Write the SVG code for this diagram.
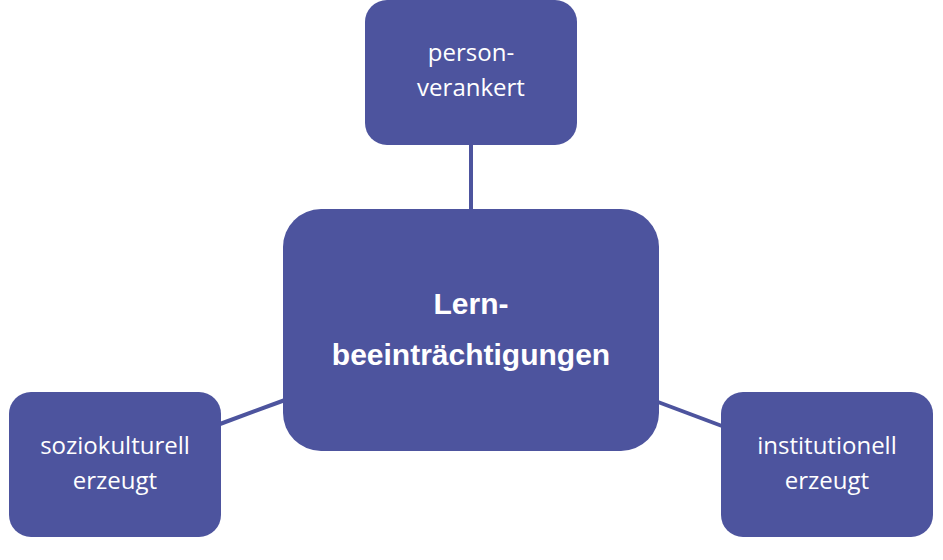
<svg xmlns="http://www.w3.org/2000/svg" width="943" height="560" viewBox="0 0 943 560">
<style>
.n{fill:#4d549e}
.t{fill:#fff;font-family:"Open Sans","Liberation Sans",sans-serif;font-size:24px;text-anchor:middle}
.b{fill:#fff;font-family:"Liberation Sans",sans-serif;font-size:30px;font-weight:bold;text-anchor:middle}
.c{stroke:#4d549e;stroke-width:4}
</style>
<rect width="943" height="560" fill="#fff"/>
<g id="connectors">
<line class="c" x1="471" y1="144" x2="471" y2="210"/>
<line class="c" x1="220" y1="424" x2="285" y2="400"/>
<line class="c" x1="658" y1="402" x2="722" y2="426"/>
</g>
<g id="center"><rect class="n" x="283" y="209" width="376" height="242" rx="38"/>
<text class="b" x="471" y="314">Lern-</text><text class="b" x="471" y="365">beeinträchtigungen</text></g>
<g id="top"><rect class="n" x="365" y="0" width="212" height="145" rx="22"/>
<text class="t" x="471" y="61">person-</text><text class="t" x="471" y="96">verankert</text></g>
<g id="left"><rect class="n" x="9" y="392" width="212" height="145" rx="22"/>
<text class="t" x="115" y="454">soziokulturell</text><text class="t" x="115" y="489">erzeugt</text></g>
<g id="right"><rect class="n" x="721" y="392" width="212" height="145" rx="22"/>
<text class="t" x="827" y="454">institutionell</text><text class="t" x="827" y="489">erzeugt</text></g>
</svg>
